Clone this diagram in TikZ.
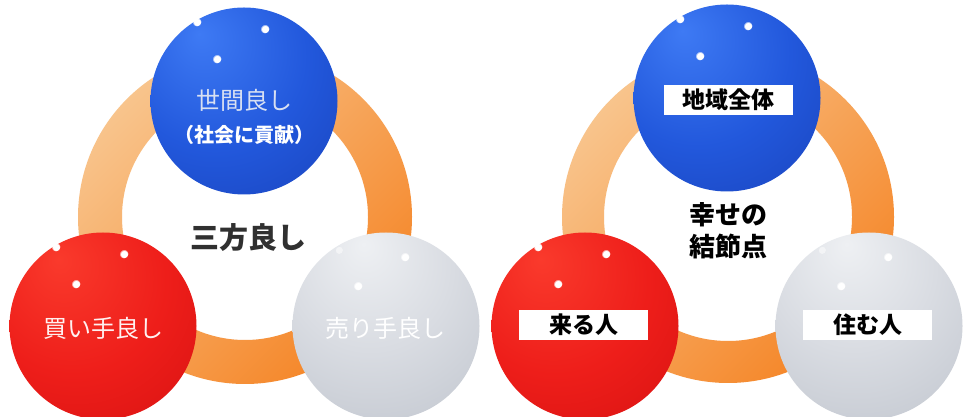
\documentclass[tikz,border=0pt]{standalone}
\usepackage{fontspec}
\newfontfamily\jp{Noto Sans CJK JP}
\usetikzlibrary{calc,fadings}

\definecolor{ringlight}{HTML}{F8C48C}
\definecolor{ringdark}{HTML}{F58628}
\definecolor{blueA}{HTML}{3E7AF4}
\definecolor{blueB}{HTML}{2258DC}
\definecolor{blueC}{HTML}{1840B8}
\definecolor{blueD}{HTML}{0E2A8C}
\definecolor{redA}{HTML}{FA3A2C}
\definecolor{redB}{HTML}{EE1E1A}
\definecolor{redC}{HTML}{D41010}
\definecolor{redD}{HTML}{A80808}
\definecolor{greyA}{HTML}{EEF0F3}
\definecolor{greyB}{HTML}{D9DCE2}
\definecolor{greyC}{HTML}{BEC3CC}
\definecolor{greyD}{HTML}{989CA4}
\definecolor{sekentext}{HTML}{D8E0F2}
\definecolor{centertext}{HTML}{303030}

\pgfdeclareradialshading{blueball}{\pgfpoint{-12bp}{18bp}}{color(0bp)=(blueA); color(25bp)=(blueB); color(50bp)=(blueC); color(75bp)=(blueD)}
\pgfdeclareradialshading{redball}{\pgfpoint{-12bp}{18bp}}{color(0bp)=(redA); color(25bp)=(redB); color(50bp)=(redC); color(75bp)=(redD)}
\pgfdeclareradialshading{greyball}{\pgfpoint{-6bp}{22bp}}{color(0bp)=(greyA); color(22bp)=(greyB); color(48bp)=(greyC); color(75bp)=(greyD)}

\tikzset{
  ball/.style={circle, inner sep=0pt, minimum size=187pt},
  ring/.style={top color=ringlight, bottom color=ringdark, shading angle=45, even odd rule},
  glint/.style={white, path fading=circle with fuzzy edge 20 percent},
  ballword/.style={font=\jp\fontsize{24}{28}\selectfont},
  tag/.style={fill=white, minimum width=129pt, minimum height=30pt, inner sep=0pt, font=\jp\bfseries\fontsize{23}{27}\selectfont}
}

\begin{document}
\begin{tikzpicture}[x=1pt, y=1pt]

\fill[white] (0,0) rectangle (971,417);
\useasboundingbox (0,0) rectangle (971,417);

% the two rings
\coordinate (ringL) at (245,200);
\coordinate (ringR) at ($(ringL) + (483,0)$);

\shade[ring] (ringL) circle (167pt) (ringL) circle (123pt);
\shade[ring] (ringR) circle (166pt) (ringR) circle (124pt);

% spheres, left
\node[ball, shading=blueball] (seken) at (244,316) {};

\node[ball, shading=redball] (kaite) at (103,91) {};

\node[ball, shading=greyball] (urite) at (386,91) {};

% spheres, right
\node[ball, shading=blueball] (chiiki) at ($(seken) + (483,3)$) {};

\node[ball, shading=redball] (kuru) at ($(kaite) + (482,0)$) {};

\node[ball, shading=greyball] (sumu) at ($(urite) + (483,0)$) {};

\foreach \b in {seken,kaite,chiiki,kuru} {
  \fill[glint] ($(\b) + (-47,79)$) circle (4.5pt);
  \fill[glint] ($(\b) + (21,72)$) circle (4.5pt);
  \fill[glint] ($(\b) + (-27,42)$) circle (4.5pt);
}
\foreach \b in {urite,sumu} {
  \fill[glint, opacity=0.5] ($(\b) + (-47,76)$) circle (4pt);
  \fill[glint] ($(\b) + (19,69)$) circle (4.5pt);
  \fill[glint] ($(\b) + (-28,40)$) circle (4.5pt);
}

% left labels
\node[ballword, text=sekentext] (sekenA) at ($(seken) + (0,1)$) {世間良し};
\node[text=white, font=\jp\bfseries\fontsize{20}{24}\selectfont] (sekenB) at ($(seken) + (0,-34)$) {（社会に貢献）};

\node[text=centertext, font=\jp\bfseries\fontsize{29}{34}\selectfont] (sanpo) at ($(ringL) + (3,-21)$) {三方良し};

\node[ballword, text=white!94!red] (kaiteA) at ($(kaite) + (0,-2)$) {買い手良し};

\node[ballword, text=white] (uriteA) at ($(urite) + (-1,-2)$) {売り手良し};

% right labels
\node[tag] (chiikiA) at ($(chiiki) + (1.5,-2)$) {地域全体};

\node[tag] (kuruA) at ($(kuru) + (-1.5,1)$) {来る人};

\node[tag] (sumuA) at ($(sumu) + (-1.5,1)$) {住む人};

\node[align=center, font=\jp\bfseries\fontsize{26}{32}\selectfont] (kessetsu) at ($(ringR) + (0,-14)$) {幸せの\\結節点};

\end{tikzpicture}
\end{document}
